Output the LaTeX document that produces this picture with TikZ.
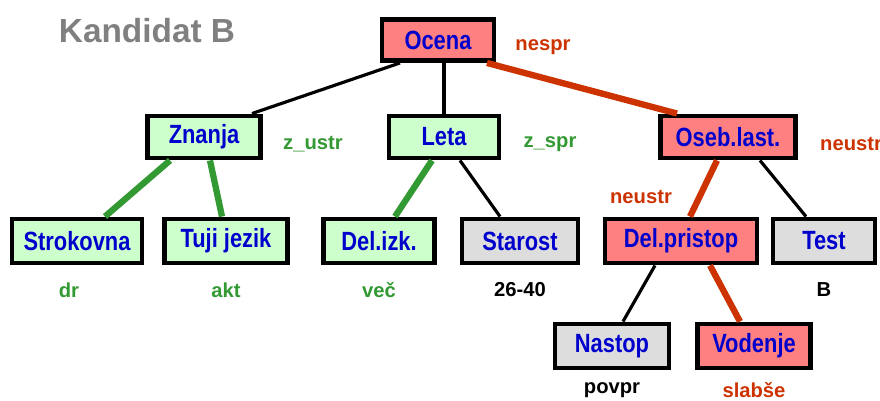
\documentclass[tikz,border=0pt]{standalone}
\usepackage{fontspec}
\setmainfont{Liberation Sans}
\newfontfamily\narrowfont{Liberation Sans}[FakeStretch=0.83]
\usepackage{tikz}
\usetikzlibrary{positioning,calc}

\definecolor{hi}{HTML}{FF8080}
\definecolor{ok}{HTML}{CCFFCC}
\definecolor{nn}{HTML}{DDDDDD}
\definecolor{txt}{HTML}{0000CC}
\definecolor{rd}{HTML}{CC3300}
\definecolor{gr}{HTML}{339933}

\tikzset{
  attr/.style={draw,rectangle,line width=2.8pt,inner sep=0pt,minimum height=0.84cm,
    font=\narrowfont\bfseries\fontsize{15}{17}\selectfont,text=txt},
  val/.style={font=\bfseries\fontsize{11.5}{13}\selectfont},
  plain/.style={line width=1.8pt},
  bad/.style={line width=3.6pt,rd},
  good/.style={line width=3.6pt,gr}
}

\begin{document}
\begin{tikzpicture}[x=0.02cm,y=-0.02cm]
\useasboundingbox (0,0) rectangle (880,401);

\node[font=\bfseries\fontsize{19}{21}\selectfont,text=gray] (title) at (147,31) {Kandidat B};

% tree
\node[attr,fill=hi,minimum width=2.24cm,minimum height=0.82cm] (ocena) at (438,40) {Ocena};
\node[attr,fill=ok,minimum width=2.26cm] (znanja) at (204,137) {Znanja};
\node[attr,fill=ok,minimum width=2.2cm] (leta) at (444,137) {Leta};
\node[attr,fill=hi,minimum width=2.7cm] (oseb) at (728,137) {Oseb.last.};
\node[attr,fill=ok,minimum width=2.6cm,minimum height=0.88cm] (strok) at (77,241) {Strokovna};
\node[attr,fill=ok,minimum width=2.46cm,minimum height=0.88cm] (tuji) at (226,241) {Tuji jezik};
\node[attr,fill=ok,minimum width=2.22cm,minimum height=0.88cm] (delizk) at (379,241) {Del.izk.};
\node[attr,fill=nn,minimum width=2.32cm,minimum height=0.88cm] (starost) at (520,241) {Starost};
\node[attr,fill=hi,minimum width=3.04cm,minimum height=0.88cm] (pristop) at (681,241) {Del.pristop};
\node[attr,fill=nn,minimum width=2.04cm,minimum height=0.88cm] (test) at (824,241) {Test};
\node[attr,fill=nn,minimum width=2.28cm,minimum height=0.88cm] (nastop) at (612,346) {Nastop};
\node[attr,fill=hi,minimum width=2.26cm,minimum height=0.88cm] (vodenje) at (754,346) {Vodenje};

% edges
\draw[plain] ([xshift=-0.76cm]ocena.south) -- ([xshift=0.96cm]znanja.north);
\draw[plain] (leta.north |- ocena.south) -- (leta.north);
\draw[bad] ([xshift=0.98cm]ocena.south) -- ([xshift=-1.02cm]oseb.north);
\draw[good] ([xshift=-0.68cm]znanja.south) -- ([xshift=0.56cm]strok.north);
\draw[good] ([xshift=0.12cm]znanja.south) -- ([xshift=-0.08cm]tuji.north);
\draw[good] ([xshift=-0.24cm]leta.south) -- ([xshift=0.32cm]delizk.north);
\draw[plain] ([xshift=0.32cm]leta.south) -- ([xshift=-0.4cm]starost.north);
\draw[bad] ([xshift=-0.22cm]oseb.south) -- ([xshift=0.18cm]pristop.north);
\draw[plain] ([xshift=0.64cm]oseb.south) -- ([xshift=-0.36cm]test.north);
\draw[plain] ([xshift=-0.52cm]pristop.south) -- ([xshift=0.22cm]nastop.north);
\draw[bad] ([xshift=0.58cm]pristop.south) -- ([xshift=-0.28cm]vodenje.north);

% values
\node[val,text=rd] (v-ocena) at (543,47) {nespr};
\node[val,text=gr] (v-znanja) at (313,144) {z\_ustr};
\node[val,text=gr] (v-leta) at (550,144) {z\_spr};
\node[val,text=rd,anchor=west] (v-oseb) at (814,144) {neustr};
\node[val,text=rd] (v-pristop) at (641,197) {neustr};
\node[val,text=gr] (v-strok) at (69,290) {dr};
\node[val,text=gr] (v-tuji) at (226,290) {akt};
\node[val,text=gr] (v-delizk) at (379,290) {več};
\node[val] (v-starost) at (520,290) {26-40};
\node[val] (v-test) at (824,290) {B};
\node[val] (v-nastop) at (612,390) {povpr};
\node[val,text=rd] (v-vodenje) at (754,390) {slabše};
\end{tikzpicture}
\end{document}
